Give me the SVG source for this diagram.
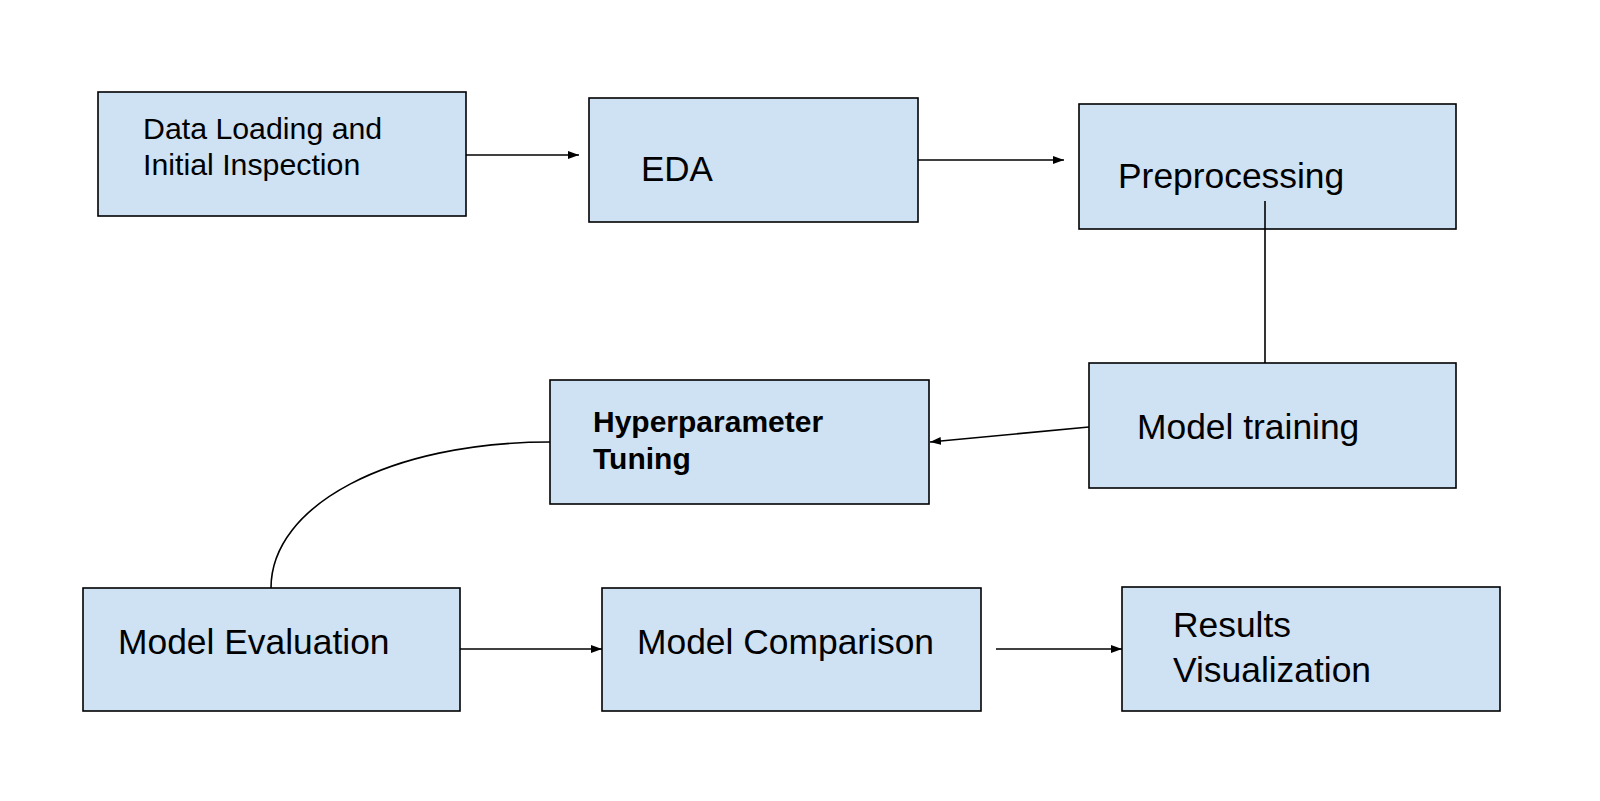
<svg xmlns="http://www.w3.org/2000/svg" width="1600" height="801" viewBox="0 0 1600 801">
<defs>
<style>
.box{fill:#cfe2f3;stroke:#000;stroke-width:1.6}
.t{font-family:"Liberation Sans",Arial,sans-serif;fill:#000}
.b{font-weight:bold}
.c{fill:none;stroke:#000;stroke-width:1.6}
</style>
<marker id="ah" markerUnits="userSpaceOnUse" markerWidth="12" markerHeight="10" refX="11" refY="4" orient="auto">
<path d="M0,0 L11,4 L0,8 Z" fill="#000"/>
</marker>
</defs>
<rect x="0" y="0" width="1600" height="801" fill="#fff"/>
<g id="n1"><rect class="box" x="98" y="92" width="368" height="124"/>
<text class="t" font-size="30.3" x="143" y="139">Data Loading and</text>
<text class="t" font-size="30.3" x="143" y="175">Initial Inspection</text></g>
<g id="n2"><rect class="box" x="589" y="98" width="329" height="124"/>
<text class="t" font-size="35" x="641" y="181">EDA</text></g>
<g id="n3"><rect class="box" x="1079" y="104" width="377" height="125"/>
<text class="t" font-size="35.4" x="1118" y="188">Preprocessing</text></g>
<g id="n4"><rect class="box" x="1089" y="363" width="367" height="125"/>
<text class="t" font-size="35.4" x="1137" y="439">Model training</text></g>
<g id="n5"><rect class="box" x="550" y="380" width="379" height="124"/>
<text class="t b" font-size="30" x="593" y="432">Hyperparameter</text>
<text class="t b" font-size="30" x="593" y="469">Tuning</text></g>
<g id="n6"><rect class="box" x="83" y="588" width="377" height="123"/>
<text class="t" font-size="35.4" x="118" y="654">Model Evaluation</text></g>
<g id="n7"><rect class="box" x="602" y="588" width="379" height="123"/>
<text class="t" font-size="35.4" x="637" y="654">Model Comparison</text></g>
<g id="n8"><rect class="box" x="1122" y="587" width="378" height="124"/>
<text class="t" font-size="35.4" x="1173" y="637">Results</text>
<text class="t" font-size="35.4" x="1173" y="682">Visualization</text></g>
<g id="connectors">
<line class="c" x1="466" y1="155" x2="579" y2="155" marker-end="url(#ah)"/>
<line class="c" x1="918" y1="160" x2="1064" y2="160" marker-end="url(#ah)"/>
<line class="c" x1="1265" y1="201" x2="1265" y2="363"/>
<line class="c" x1="1089" y1="427" x2="930" y2="442" marker-end="url(#ah)"/>
<path class="c" d="M550,442 C390,442 271,505 271,588"/>
<line class="c" x1="460" y1="649" x2="602" y2="649" marker-end="url(#ah)"/>
<line class="c" x1="996" y1="649" x2="1122" y2="649" marker-end="url(#ah)"/>
</g>
</svg>
